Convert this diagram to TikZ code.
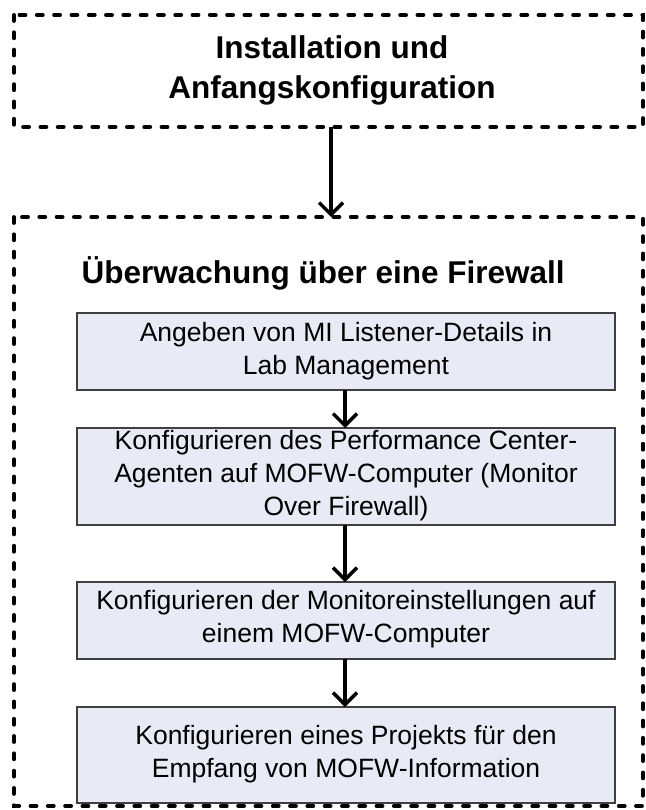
\documentclass[tikz,border=0pt]{standalone}
\usepackage{fontspec}
\setmainfont{Liberation Sans}
\usetikzlibrary{arrows.meta}
\definecolor{boxfill}{HTML}{E8EBF5}
\definecolor{boxline}{HTML}{404040}
\tikzset{
  dashbox/.style={draw=black, line width=3.8pt, dash pattern=on 6pt off 11.3pt, line cap=round},
  stepbox/.style={draw=boxline, fill=boxfill, line width=1.8pt},
  steptext/.style={font=\fontsize{26.5}{33}\selectfont, align=center},
  flow/.style={line width=3.5pt, -{Straight Barb[length=12pt, width=24pt, line width=3.5pt]}},
}
\begin{document}
\begin{tikzpicture}[x=1pt, y=-1pt]
\useasboundingbox (0,0) rectangle (645,810);
% top box
\draw[dashbox] (14,15) rectangle (643,127);
\node[font=\bfseries\fontsize{31.5}{40}\selectfont, align=center] (top) at (332,70) {Installation und\\Anfangskonfiguration};
\coordinate (topS) at (331,127);
% outer box
\draw[dashbox] (14,217) rectangle (643,806);
\coordinate (outN) at (331,217);
\draw[flow] (topS) -- (outN);
\node[font=\bfseries\fontsize{31.5}{36}\selectfont, anchor=west] (title) at (78,273) {Überwachung über eine Firewall};
% steps
\draw[stepbox] (77,313) rectangle (615,390);
\node[steptext] (s1) at (346,351) {Angeben von MI Listener-Details in\\Lab Management};
\draw[stepbox] (77,428) rectangle (615,525);
\node[steptext] (s2) at (346,476) {Konfigurieren des Performance Center-\\Agenten auf MOFW-Computer (Monitor\\Over Firewall)};
\draw[stepbox] (77,582) rectangle (615,659);
\node[steptext] (s3) at (346,619) {Konfigurieren der Monitoreinstellungen auf\\einem MOFW-Computer};
\draw[stepbox] (77,707) rectangle (615,803);
\node[steptext] (s4) at (346,754) {Konfigurieren eines Projekts für den\\Empfang von MOFW-Information};
\coordinate (b1s) at (345,390); \coordinate (b2n) at (345,428);
\coordinate (b2s) at (345,525); \coordinate (b3n) at (345,582);
\coordinate (b3s) at (345,659); \coordinate (b4n) at (345,707);
\draw[flow] (b1s) -- (b2n);
\draw[flow] (b2s) -- (b3n);
\draw[flow] (b3s) -- (b4n);
\end{tikzpicture}
\end{document}
